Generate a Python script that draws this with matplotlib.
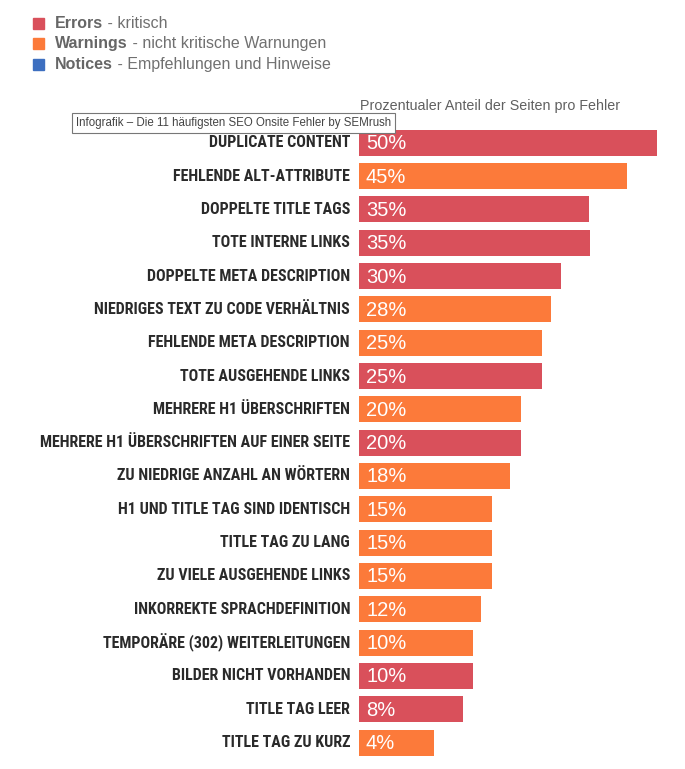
import matplotlib
matplotlib.use("Agg")
import matplotlib.pyplot as plt
from matplotlib.patches import Rectangle

# ---- data ----
categories = [
    "DUPLICATE CONTENT",
    "FEHLENDE ALT-ATTRIBUTE",
    "DOPPELTE TITLE TAGS",
    "TOTE INTERNE LINKS",
    "DOPPELTE META DESCRIPTION",
    "NIEDRIGES TEXT ZU CODE VERHÄLTNIS",
    "FEHLENDE META DESCRIPTION",
    "TOTE AUSGEHENDE LINKS",
    "MEHRERE H1 ÜBERSCHRIFTEN",
    "MEHRERE H1 ÜBERSCHRIFTEN AUF EINER SEITE",
    "ZU NIEDRIGE ANZAHL AN WÖRTERN",
    "H1 UND TITLE TAG SIND IDENTISCH",
    "TITLE TAG ZU LANG",
    "ZU VIELE AUSGEHENDE LINKS",
    "INKORREKTE SPRACHDEFINITION",
    "TEMPORÄRE (302) WEITERLEITUNGEN",
    "BILDER NICHT VORHANDEN",
    "TITLE TAG LEER",
    "TITLE TAG ZU KURZ",
]
percent_labels = [50, 45, 35, 35, 30, 28, 25, 25, 20, 20, 18, 15, 15, 15, 12, 10, 10, 8, 4]
# drawn bar lengths (chart units)
bar_lengths = [298, 268, 230, 231, 202, 192, 183, 183, 162, 162, 151, 133, 133, 133, 122, 114, 114, 104, 75]
severity = ["error", "warning", "error", "error", "error", "warning", "warning", "error",
            "warning", "error", "warning", "warning", "warning", "warning", "warning",
            "warning", "error", "error", "warning"]

legend_names = ["Errors", "Warnings", "Notices"]
legend_desc = [" - kritisch", " - nicht kritische Warnungen", " - Empfehlungen und Hinweise"]
axis_title = "Prozentualer Anteil der Seiten pro Fehler"
tooltip = "Infografik – Die 11 häufigsten SEO Onsite Fehler by SEMrush"

palette = {"error": "#d9505b", "warning": "#fc7a3a", "notice": "#3d6fc0"}
legend_colors = [palette["error"], palette["warning"], palette["notice"]]

W, H = 685, 769
fig = plt.figure(figsize=(W / 100, H / 100), dpi=100)
fig.patch.set_facecolor("white")
renderer = fig.canvas.get_renderer()

n = len(categories)
row_px = 33.33
top_px = 142.7 - row_px / 2
ax = fig.add_axes([359 / W, (H - (top_px + n * row_px)) / H, (W - 359) / W, n * row_px / H])
ax.barh(range(n), bar_lengths, height=0.78, color=[palette[s] for s in severity])
ax.set_xlim(0, W - 359)
ax.set_ylim(n - 0.5, -0.5)
ax.axis("off")

label_font = ["Roboto Condensed", "Open Sans Condensed", "Liberation Sans Narrow",
              "DejaVu Sans", "Noto Sans"]
# pick a size so the longest label fits the space left of the bars
base_size = 12.5
longest = max(categories, key=len)
probe = fig.text(0, 0, longest, fontsize=base_size, fontweight="bold",
                 fontstretch="condensed", family=label_font)
width = probe.get_window_extent(renderer).width
probe.remove()
label_size = base_size * min(1.0, 312 / width)

for i, (cat, p) in enumerate(zip(categories, percent_labels)):
    ax.text(-9, i, cat, ha="right", va="center", fontsize=label_size, fontweight="bold",
            fontstretch="condensed", family=label_font, color="#2a2a2a", clip_on=False)
    ax.text(7, i + 0.03, f"{p}%", ha="left", va="center", fontsize=14.5,
            family=["Liberation Sans", "DejaVu Sans"], color="white")

# legend
leg_y = [23.5, 43.5, 64.5]
for name, desc, col, y in zip(legend_names, legend_desc, legend_colors, leg_y):
    fig.patches.append(Rectangle((33 / W, (H - y - 5.5) / H), 11 / W, 11 / H,
                                 transform=fig.transFigure, color=col))
    t = fig.text(55 / W, (H - y) / H, name, ha="left", va="center", fontsize=11.5,
                 fontweight="bold", family=["Liberation Sans", "DejaVu Sans"], color="#666666")
    bb = t.get_window_extent(renderer)
    fig.text(bb.x1 / W, (H - y) / H, desc, ha="left", va="center", fontsize=11.5,
             family=["Liberation Sans", "DejaVu Sans"], color="#707070")

fig.text(360 / W, (H - 106) / H, axis_title, ha="left", va="center", fontsize=10.3,
         family=["Liberation Sans", "DejaVu Sans"], color="#606060")

fig.text(76 / W, (H - 123) / H, tooltip, ha="left", va="center", fontsize=8.3,
         family=["Liberation Sans", "DejaVu Sans"], color="#444444",
         bbox=dict(boxstyle="square,pad=0.32", facecolor="white", edgecolor="#777777", linewidth=0.8))

fig.savefig("out.png", dpi=100, facecolor="white")
